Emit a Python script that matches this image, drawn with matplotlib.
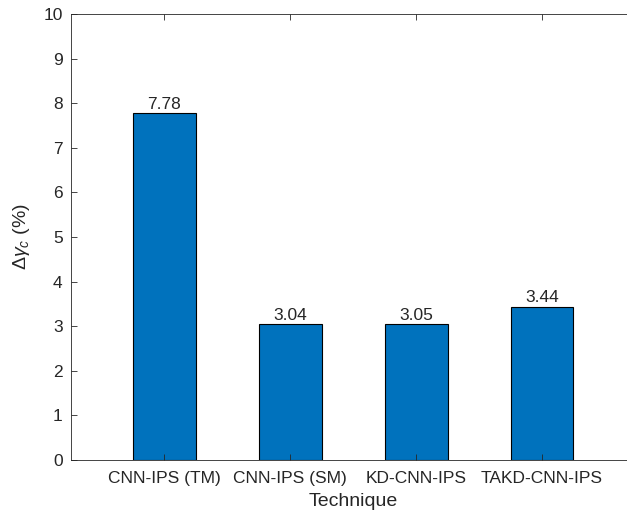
import matplotlib.pyplot as plt
import numpy as np

techniques = ["CNN-IPS (TM)", "CNN-IPS (SM)", "KD-CNN-IPS", "TAKD-CNN-IPS"]
delta_gamma = [7.78, 3.04, 3.05, 3.44]

plt.rcParams['font.family'] = ['Liberation Sans', 'DejaVu Sans']
plt.rcParams['mathtext.fontset'] = 'custom'
plt.rcParams['mathtext.rm'] = 'Liberation Sans'
plt.rcParams['mathtext.it'] = 'Liberation Sans:italic'

txt = "#262626"
fig = plt.figure(figsize=(6.27, 5.12), dpi=100)
# axes extends slightly past the right edge, like the cropped original
ax = fig.add_axes([71 / 627, 52 / 512, (635.5 - 71) / 627, (460 - 14) / 512])

x = np.arange(1, len(techniques) + 1)
bars = ax.bar(x, delta_gamma, width=0.5, color="#0072BD", edgecolor="black", linewidth=0.8)
for xi, v in zip(x, delta_gamma):
    ax.text(xi, v + 0.03, f"{v:.2f}", ha="center", va="bottom", fontsize=12.5, color=txt)

ax.set_xlim(0.257, 4.743)
ax.set_ylim(0, 10)
ax.set_yticks(range(0, 11))
ax.set_xticks(x)
ax.set_xticklabels(techniques)
ax.tick_params(direction="in", top=True, right=True, labelsize=12.5, colors=txt, length=4.2, width=0.6)
ax.tick_params(axis="x", pad=8)
ax.tick_params(axis="y", pad=6)
for s in ax.spines.values():
    s.set_color("#262626")
    s.set_linewidth(0.6)
ax.set_xlabel("Technique", fontsize=14, color=txt, labelpad=5)
ax.set_ylabel(r"$\Delta\gamma_c$ (%)", fontsize=14, color=txt, labelpad=8)

fig.savefig("out.png", dpi=100)
